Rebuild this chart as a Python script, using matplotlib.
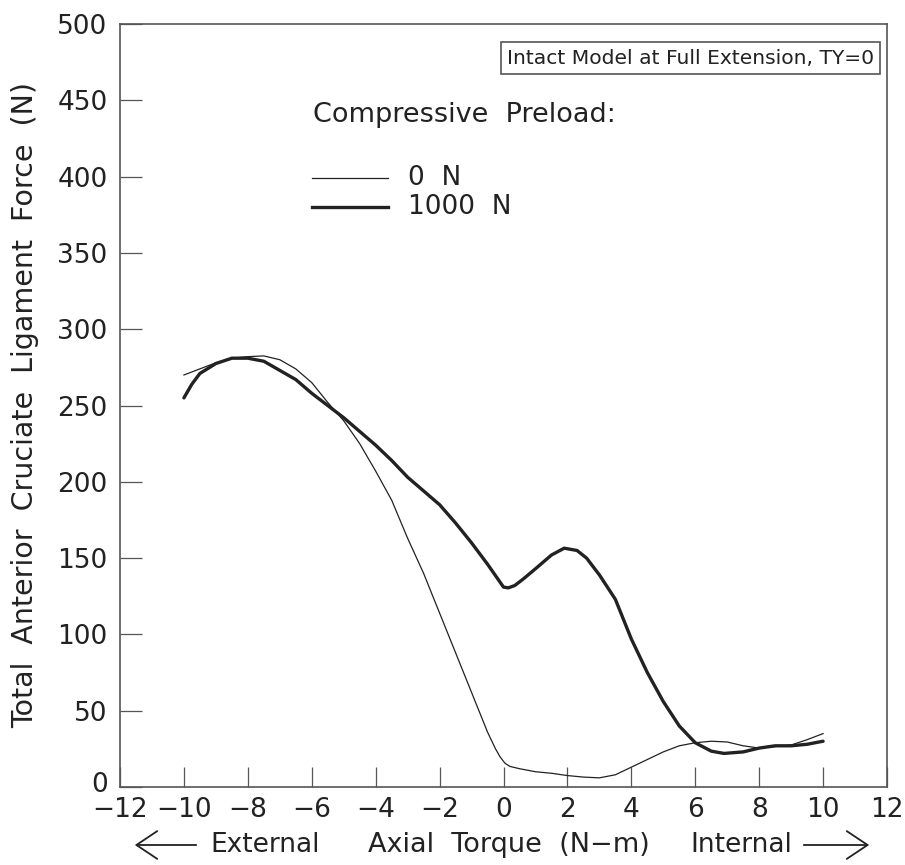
import numpy as np
import matplotlib
matplotlib.use("Agg")
import matplotlib.pyplot as plt
import matplotlib.transforms as mtransforms
from matplotlib.patches import FancyArrowPatch

# axial torque (N-m)
torque_0 = [-10, -9.5, -9, -8.5, -8, -7.5, -7, -6.5, -6, -5.5, -5, -4.5, -4, -3.5,
            -3, -2.5, -2, -1.5, -1, -0.5, -0.25, -0.1, 0.05, 0.2, 0.5, 1, 1.5, 2,
            2.5, 3, 3.5, 4, 4.5, 5, 5.5, 6, 6.5, 7, 7.5, 8, 8.5, 9, 9.5, 10]
# ACL force at 0 N preload
force_0 = [270, 274, 278, 281, 282, 282.5, 280, 274, 265, 252, 240, 225, 207, 188,
           163, 140, 114, 88, 62, 36, 25, 19.5, 15.5, 13.5, 12, 10, 9, 7.5,
           6.5, 6, 8, 13, 18, 23, 27, 29, 30, 29.5, 27, 25.5, 26.5, 27.5, 31, 35]

torque_1000 = [-10, -9.75, -9.5, -9, -8.5, -8, -7.5, -7, -6.5, -6, -5.5, -5, -4.5,
               -4, -3.5, -3, -2.5, -2, -1.5, -1, -0.5, -0.2, 0, 0.15, 0.35, 0.6,
               1, 1.5, 1.9, 2.3, 2.6, 3, 3.5, 4, 4.5, 5, 5.5, 6, 6.5, 6.9, 7.5,
               8, 8.5, 9, 9.5, 10]
# ACL force at 1000 N preload
force_1000 = [255, 264, 271, 277.5, 281, 281, 279, 273, 267, 258, 250, 242, 233,
              224, 214, 203, 194, 185, 173, 160, 146, 137, 131, 130.5, 132, 136,
              143, 152, 156.5, 155, 150, 139, 123, 97, 75, 56, 40, 29, 23.5, 22, 23,
              25.5, 27, 27, 28, 30]

x_ticks = np.arange(-12, 13, 2)
y_ticks = np.arange(0, 501, 50)

W, H = 905, 865
fig = plt.figure(figsize=(W / 100, H / 100), dpi=100)
ax = fig.add_axes([120 / W, 1 - 787 / H, 767 / W, 763 / H])

ink = "#222222"
gray = "#555555"
fs = 19

ax.plot(torque_0, force_0, color=ink, lw=0.9, solid_joinstyle="round")
ax.plot(torque_1000, force_1000, color=ink, lw=2.4, solid_joinstyle="round",
        solid_capstyle="round")

ax.set_xlim(-12, 12)
ax.set_ylim(0, 500)
ax.set_xticks(x_ticks)
ax.set_yticks(y_ticks)
ax.set_xticklabels([str(v).replace("-", "\u2212") for v in x_ticks])
ax.tick_params(axis="x", direction="in", length=14.5, width=0.9, color=gray,
               labelsize=fs, labelcolor=ink, pad=7)
ax.tick_params(axis="y", direction="in", length=16, width=0.9, color=gray,
               labelsize=fs, labelcolor=ink, pad=9)
for s in ax.spines.values():
    s.set_color(gray)
    s.set_linewidth(1.2)

# the "0" on the y axis sits a little higher, just above the -12
fig.canvas.draw()
ylab0 = ax.get_yticklabels()[0]
ylab0.set_transform(ylab0.get_transform() +
                    mtransforms.ScaledTranslation(0, 5 / 100, fig.dpi_scale_trans))

# legend drawn by hand
ax.text(0.2516, 0.8807, "Compressive  Preload:", transform=ax.transAxes,
        fontsize=19.5, color=ink, va="center", ha="left")
ax.plot([0.2503, 0.3494], [0.798, 0.798], transform=ax.transAxes, color=ink, lw=0.9)
ax.plot([0.2503, 0.3494], [0.760, 0.760], transform=ax.transAxes, color=ink, lw=2.4)
ax.text(0.3755, 0.798, "0  N", transform=ax.transAxes, fontsize=fs, color=ink,
        va="center", ha="left")
ax.text(0.3755, 0.760, "1000  N", transform=ax.transAxes, fontsize=fs, color=ink,
        va="center", ha="left")

# title box
fig.text(874 / W, 1 - 58 / H, "Intact Model at Full Extension, TY=0",
         fontsize=14.6, color=ink, ha="right", va="center",
         bbox=dict(boxstyle="square,pad=0.3", fc="white", ec=gray, lw=1.2))

# y label
fig.text(25 / W, 1 - 405 / H,
         "Total  Anterior  Cruciate  Ligament  Force  (N)",
         rotation=90, fontsize=20.5, color=ink, ha="center", va="center")

# x label with arrows
yl = 1 - 845 / H
fig.text(210 / W, yl, "External", fontsize=fs, color=ink, ha="left", va="center")
fig.text(368 / W, yl, "Axial  Torque  (N\u2212m)", fontsize=19.5, color=ink,
         ha="left", va="center")
fig.text(792 / W, yl, "Internal", fontsize=fs, color=ink, ha="right", va="center")
for x0, x1 in [(199, 132), (801, 872)]:
    fig.patches.append(FancyArrowPatch((x0 / W, yl), (x1 / W, yl),
                                       transform=fig.transFigure,
                                       arrowstyle="->,head_length=15,head_width=10",
                                       color=ink, lw=1.3, mutation_scale=1))

fig.savefig("out.png", dpi=100)
